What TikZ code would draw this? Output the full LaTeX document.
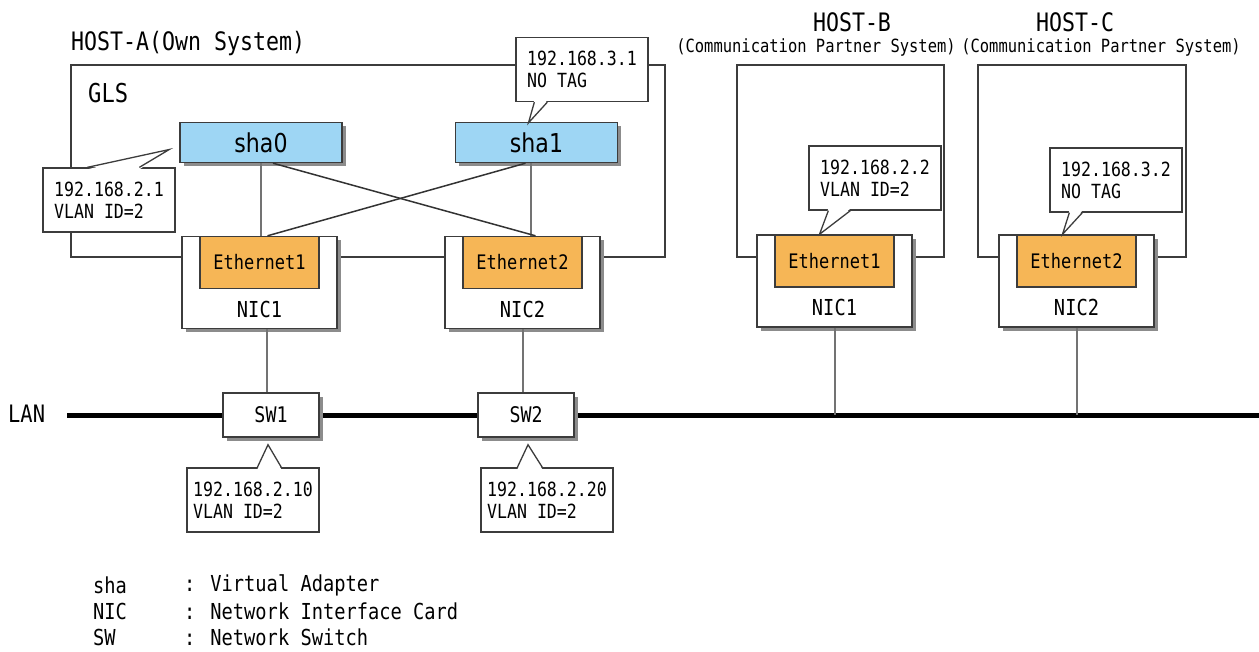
\documentclass[tikz,border=0pt]{standalone}
\usepackage{fontspec}
\setmainfont[FakeStretch=0.85]{DejaVu Sans Mono}
\newfontfamily\shafont[FakeStretch=0.85]{DejaVu Sans}
\usepackage{tikz}
\usetikzlibrary{shadows}
\definecolor{shablue}{RGB}{158,214,244}
\definecolor{ethorange}{RGB}{246,182,86}
\definecolor{edgegray}{RGB}{60,60,60}
\definecolor{linegray}{RGB}{115,115,115}
\newcommand{\fs}[1]{\fontsize{#1}{#1}\selectfont}

\begin{document}
\begin{tikzpicture}[x=1pt,y=-1pt,
  hostbox/.style={draw=edgegray,line width=1.6pt,inner sep=0pt,minimum height=192pt},
  shabox/.style={draw=edgegray,line width=1.4pt,fill=shablue,minimum width=162pt,minimum height=40pt,inner sep=0pt,
    drop shadow={shadow xshift=3.5pt,shadow yshift=-3.5pt,fill=black!45,opacity=1},font=\shafont\fs{26}},
  nicbox/.style={draw=edgegray,line width=1.4pt,fill=white,minimum width=155pt,minimum height=92pt,inner sep=0pt,
    drop shadow={shadow xshift=3.5pt,shadow yshift=-3.5pt,fill=black!45,opacity=1}},
  ethbox/.style={draw=edgegray,line width=1.3pt,fill=ethorange,minimum width=119pt,minimum height=52pt,inner sep=0pt,anchor=north,font=\fs{20}},
  swbox/.style={draw=edgegray,line width=1.4pt,fill=white,minimum width=96pt,minimum height=44pt,inner sep=0pt,
    drop shadow={shadow xshift=3.5pt,shadow yshift=-3.5pt,fill=black!45,opacity=1},font=\fs{21.5}},
  callbox/.style={draw=edgegray,line width=1.3pt,fill=white,align=left,minimum width=132pt,minimum height=64pt,inner sep=0pt,
    font=\fontsize{19.5}{22}\selectfont},
  callline/.style={draw=edgegray,line width=1.3pt,line join=miter},
  txt/.style={inner sep=0pt},
  link/.style={draw=linegray,line width=2pt},
  crosslink/.style={draw=black!80,line width=1.5pt},
  lanline/.style={draw=black,line width=5pt}]
\useasboundingbox (0,0) rectangle (1259,651);

\node[txt,anchor=west,font=\fs{25.4}] (titleA) at (71,44) {HOST-A(Own System)};
\node[txt,font=\fs{25.4}] (titleB) at (852,22) {HOST-B};
\node[txt,font=\fs{18.2}] (subB) at (816,47) {(Communication Partner System)};
\node[txt,font=\fs{25.4}] (titleC) at (1075,22) {HOST-C};
\node[txt,font=\fs{18.2}] (subC) at (1101,47) {(Communication Partner System)};

\node[hostbox,minimum width=594pt] (gls) at (368,161) {};
\node[txt,anchor=west,font=\fs{26}] (glstext) at (88,93) {GLS};
\node[hostbox,minimum width=207pt] (hostB) at (840.5,161) {};
\node[hostbox,minimum width=208pt] (hostC) at (1082,161) {};

\node[shabox] (sha0) at (261,142.5) {sha0};
\node[shabox] (sha1) at (536.5,142.5) {sha1};

\node[nicbox] (nic1) at (259.5,282.5) {};
\node[ethbox] (eth1) at (nic1.north) {Ethernet1};
\node[txt,font=\fs{22}] at ([yshift=20pt]nic1.south) {NIC1};
\node[nicbox] (nic2) at (522.5,282.5) {};
\node[ethbox] (eth2) at (nic2.north) {Ethernet2};
\node[txt,font=\fs{22}] at ([yshift=20pt]nic2.south) {NIC2};
\node[nicbox] (nicB) at (834.5,281) {};
\node[ethbox] (ethB) at (nicB.north) {Ethernet1};
\node[txt,font=\fs{22}] at ([yshift=20pt]nicB.south) {NIC1};
\node[nicbox] (nicC) at (1076.5,281) {};
\node[ethbox] (ethC) at (nicC.north) {Ethernet2};
\node[txt,font=\fs{22}] at ([yshift=20pt]nicC.south) {NIC2};

\draw[link] (sha0.south) -- (sha0.south |- eth1.north);
\draw[link] ([xshift=-6pt]sha1.south) -- ([xshift=-6pt]sha1.south |- eth2.north);
\draw[crosslink] ([xshift=12pt]sha0.south) -- ([xshift=13pt]eth2.north);
\draw[crosslink] ([xshift=-11pt]sha1.south) -- ([xshift=8pt]eth1.north);

\node[txt,anchor=west,font=\fs{24}] (lan) at (8,414) {LAN};
\coordinate (lanL) at (67,415);
\coordinate (lanR) at (1259,415);
\draw[lanline] (lanL) -- (lanR);
\draw[link] (nicB.south) -- (nicB.south |- lanR);
\draw[link] (nicC.south) -- (nicC.south |- lanR);

\node[swbox] (sw1) at (271,415) {SW1};
\node[swbox] (sw2) at (526,415) {SW2};
\draw[link] ([xshift=7pt]nic1.south) -- ([xshift=7pt]nic1.south |- sw1.north);
\draw[link] (nic2.south) -- (nic2.south |- sw2.north);

\node[callbox] (ip0) at (109,200) {192.168.2.1\\VLAN ID=2};
\coordinate (tip0) at ([xshift=-10pt,yshift=-7pt]sha0.west);
\fill[white] ([xshift=45pt,yshift=-2pt]ip0.north west) -- (tip0) -- ([xshift=97pt,yshift=-2pt]ip0.north west) -- cycle;
\draw[callline] ([xshift=45pt]ip0.north west) -- (tip0) -- ([xshift=97pt]ip0.north west);

\node[callbox] (ip1) at (582,69.5) {192.168.3.1\\NO TAG};
\coordinate (tip1) at ([xshift=-8pt,yshift=-1pt]sha1.north);
\fill[white] ([xshift=19pt,yshift=2pt]ip1.south west) -- (tip1) -- ([xshift=32pt,yshift=2pt]ip1.south west) -- cycle;
\draw[callline] ([xshift=19pt]ip1.south west) -- (tip1) -- ([xshift=32pt]ip1.south west);

\node[callbox] (ipB) at (875,178) {192.168.2.2\\VLAN ID=2};
\coordinate (tipB) at ([xshift=-15pt]ethB.north);
\fill[white] ([xshift=20pt,yshift=2pt]ipB.south west) -- (tipB) -- ([xshift=42pt,yshift=2pt]ipB.south west) -- cycle;
\draw[callline] ([xshift=20pt]ipB.south west) -- (tipB) -- ([xshift=42pt]ipB.south west);

\node[callbox] (ipC) at (1116,180) {192.168.3.2\\NO TAG};
\coordinate (tipC) at ([xshift=-14pt]ethC.north);
\fill[white] ([xshift=20pt,yshift=2pt]ipC.south west) -- (tipC) -- ([xshift=33pt,yshift=2pt]ipC.south west) -- cycle;
\draw[callline] ([xshift=20pt]ipC.south west) -- (tipC) -- ([xshift=33pt]ipC.south west);

\node[callbox] (ipS1) at (253,500) {192.168.2.10\\VLAN ID=2};
\coordinate (tipS1) at ([xshift=-3pt,yshift=-7pt]sw1.south);
\fill[white] ([xshift=71pt,yshift=-2pt]ipS1.north west) -- (tipS1) -- ([xshift=95pt,yshift=-2pt]ipS1.north west) -- cycle;
\draw[callline] ([xshift=71pt]ipS1.north west) -- (tipS1) -- ([xshift=95pt]ipS1.north west);

\node[callbox] (ipS2) at (547,500) {192.168.2.20\\VLAN ID=2};
\coordinate (tipS2) at ([xshift=2pt,yshift=-7pt]sw2.south);
\fill[white] ([xshift=37pt,yshift=-2pt]ipS2.north west) -- (tipS2) -- ([xshift=62pt,yshift=-2pt]ipS2.north west) -- cycle;
\draw[callline] ([xshift=37pt]ipS2.north west) -- (tipS2) -- ([xshift=62pt]ipS2.north west);

\node[txt,anchor=west,font=\fs{22}] (lg1) at (93,585) {sha};
\node[txt,anchor=west,font=\fs{22}] at (184,585) {: Virtual Adapter};
\node[txt,anchor=west,font=\fs{22}] (lg2) at (93,611) {NIC};
\node[txt,anchor=west,font=\fs{22}] at (184,611) {: Network Interface Card};
\node[txt,anchor=west,font=\fs{22}] (lg3) at (93,637) {SW};
\node[txt,anchor=west,font=\fs{22}] at (184,637) {: Network Switch};
\end{tikzpicture}
\end{document}
